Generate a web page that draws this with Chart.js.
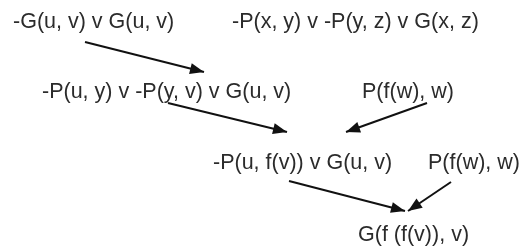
<!DOCTYPE html>
<html>
<head>
<meta charset="utf-8">
<script src="https://cdn.jsdelivr.net/npm/chart.js@4.4.1/dist/chart.umd.min.js"></script>
<style>
html,body{margin:0;padding:0;background:#fff;}
#wrap{width:522px;height:248px;}
</style>
</head>
<body>
<div id="wrap"><canvas id="c" width="522" height="248"></canvas></div>
<script>
// Clause nodes of the resolution tree
const nodeLabels = [
  "-G(u, v) v G(u, v)",
  "-P(x, y) v -P(y, z) v G(x, z)",
  "-P(u, y) v -P(y, v) v G(u, v)",
  "P(f(w), w)",
  "-P(u, f(v)) v G(u, v)",
  "P(f(w), w)",
  "G(f (f(v)), v)"
];
const nodeX = [13, 232, 42, 362, 213, 428, 358];   // left edge of text
const nodeY = [28, 28, 98, 98, 169, 169, 241];      // text baseline

// Resolution arrows: start and end points
const arrowFromX = [85, 168, 427, 289, 451];
const arrowFromY = [42, 103, 103, 181, 182];
const arrowToX   = [204, 287, 346, 405, 408];
const arrowToY   = [72, 132, 132, 211, 211];

const datasets = arrowFromX.map((x, i) => ({
  data: [{x: x, y: arrowFromY[i]}, {x: arrowToX[i], y: arrowToY[i]}],
  showLine: true,
  borderColor: '#111',
  borderWidth: 2,
  pointRadius: 0,
  fill: false
}));

const overlay = {
  id: 'overlay',
  afterDatasetsDraw(chart) {
    const ctx = chart.ctx;
    const xs = chart.scales.x, ys = chart.scales.y;
    ctx.save();
    // arrow heads
    ctx.fillStyle = '#111';
    arrowFromX.forEach((x, i) => {
      const x0 = xs.getPixelForValue(x), y0 = ys.getPixelForValue(arrowFromY[i]);
      const x1 = xs.getPixelForValue(arrowToX[i]), y1 = ys.getPixelForValue(arrowToY[i]);
      const a = Math.atan2(y1 - y0, x1 - x0);
      const L = 14, W = 5.5;
      ctx.beginPath();
      ctx.moveTo(x1, y1);
      ctx.lineTo(x1 - L * Math.cos(a) + W * Math.sin(a), y1 - L * Math.sin(a) - W * Math.cos(a));
      ctx.lineTo(x1 - L * Math.cos(a) - W * Math.sin(a), y1 - L * Math.sin(a) + W * Math.cos(a));
      ctx.closePath();
      ctx.fill();
    });
    // node texts
    ctx.fillStyle = '#2b2b2b';
    ctx.font = '21.5px "Liberation Sans", Arial, sans-serif';
    ctx.textAlign = 'left';
    ctx.textBaseline = 'alphabetic';
    nodeLabels.forEach((t, i) => {
      ctx.fillText(t, xs.getPixelForValue(nodeX[i]), ys.getPixelForValue(nodeY[i]));
    });
    ctx.restore();
  }
};

new Chart(document.getElementById('c'), {
  type: 'scatter',
  data: { datasets },
  options: {
    responsive: false,
    animation: false,
    layout: { padding: 0 },
    plugins: { legend: { display: false }, tooltip: { enabled: false } },
    scales: {
      x: { type: 'linear', min: 0, max: 522, display: false },
      y: { type: 'linear', min: 0, max: 248, reverse: true, display: false }
    }
  },
  plugins: [overlay]
});
</script>
</body>
</html>
